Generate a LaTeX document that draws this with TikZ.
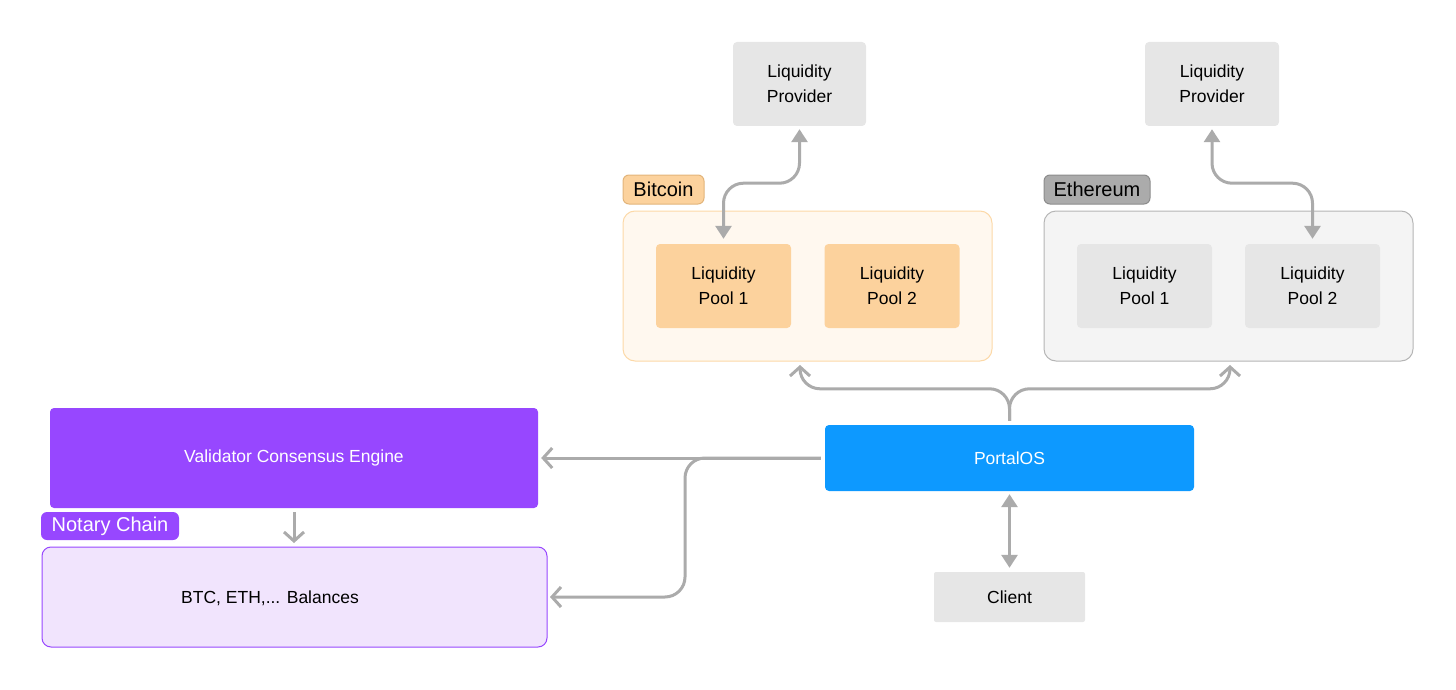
\documentclass[tikz,border=0pt]{standalone}
\usepackage{fontspec}
\setmainfont{Liberation Sans}
\usetikzlibrary{arrows.meta}

\definecolor{boxgray}{HTML}{E6E6E6}
\definecolor{linegray}{HTML}{ABABAB}
\definecolor{btcfill}{HTML}{FCD29D}
\definecolor{btcback}{HTML}{FFF8EF}
\definecolor{btcline}{HTML}{FCD9A8}
\definecolor{btcdark}{HTML}{E2B47A}
\definecolor{ethback}{HTML}{F4F4F4}
\definecolor{ethline}{HTML}{B5B5B5}
\definecolor{ethlabel}{HTML}{ABABAB}
\definecolor{ethdark}{HTML}{8C8C8C}
\definecolor{notary}{HTML}{9747FF}
\definecolor{notaryback}{HTML}{F1E4FD}
\definecolor{portal}{HTML}{0D99FF}

\tikzset{
  box/.style={rounded corners=4pt, inner sep=0pt, align=center,
    font=\fontsize{17.5}{25}\selectfont},
  pool/.style={box, minimum width=135pt, minimum height=84pt},
  tag/.style={rounded corners=6pt, inner sep=0pt, font=\fontsize{20}{22}\selectfont},
  both/.style={linegray, line width=3pt, rounded corners=20pt,
    {Triangle[length=13pt,width=16pt]}-{Triangle[length=13pt,width=16pt]}},
  flow/.style={linegray, line width=3pt, rounded corners=20pt,
    -{Straight Barb[length=9pt,width=20pt,line width=3pt]}}
}

\begin{document}
\begin{tikzpicture}[x=1pt, y=-1pt]
    \useasboundingbox (0,0) rectangle (1456,690);

    % Containers
    \draw[btcline, fill=btcback, line width=1pt, rounded corners=12pt] (623,211) rectangle (992,361);
    \draw[ethline, fill=ethback, line width=1pt, rounded corners=12pt] (1044,211) rectangle (1413,361);
    \node[tag, fill=btcfill, draw=btcdark, line width=1pt, minimum width=81pt, minimum height=29pt] (btctag) at (663.5,189.5) {Bitcoin};
    \node[tag, fill=ethlabel, draw=ethdark, line width=1pt, minimum width=106pt, minimum height=29pt] (ethtag) at (1097,189.5) {Ethereum};

    % Liquidity providers
    \node[pool, fill=boxgray, minimum width=133pt] (lpb) at (799.5,84) {Liquidity\\Provider};
    \node[pool, fill=boxgray, minimum width=134pt] (lpe) at (1212,84) {Liquidity\\Provider};

    % Pools
    \node[pool, fill=btcfill] (poolba) at (723.5,286) {Liquidity\\Pool 1};
    \node[pool, fill=btcfill] (poolbb) at (892,286) {Liquidity\\Pool 2};
    \node[pool, fill=boxgray] (poolea) at (1144.5,286) {Liquidity\\Pool 1};
    \node[pool, fill=boxgray] (pooleb) at (1312.5,286) {Liquidity\\Pool 2};

    % Notary chain
    \node[box, fill=notary, text=white, minimum width=488pt, minimum height=100pt] (validator) at (294,458) {Validator Consensus Engine};
    \draw[notary, fill=notaryback, line width=1pt, rounded corners=9pt] (42,547) rectangle (547,647);
    \coordinate (balances) at (547,597);
    \node[font=\fontsize{17.5}{20}\selectfont] (baltext) at (270,598) {BTC, ETH,... Balances};
    \node[tag, fill=notary, text=white, minimum width=138pt, minimum height=28pt] (notarytag) at (110,526) {Notary Chain};

    % PortalOS and client
    \node[box, fill=portal, text=white, minimum width=369pt, minimum height=66pt] (portalos) at (1009.5,458) {PortalOS};
    \node[box, fill=boxgray, rounded corners=2pt, minimum width=151pt, minimum height=50pt] (client) at (1009.5,597) {Client};

    % Connectors
    \draw[both] ([yshift=-3pt]lpb.south) -- ++(0,54) -| ([yshift=5pt]poolba.north);
    \draw[both] ([yshift=-3pt]lpe.south) -- ++(0,54) -| ([yshift=5pt]pooleb.north);
    \draw[flow] ([yshift=4pt]portalos.north) -- ++(0,-32) -| (800,365);
    \draw[flow] ([yshift=4pt]portalos.north) -- ++(0,-32) -| (1230,365);
    \draw[flow] ([xshift=-4pt]portalos.west) -- ([xshift=3pt]validator.east);
    \draw[flow] ([xshift=-4pt]portalos.west) -| (685,597) -- ([xshift=3pt]balances);
    \draw[flow] ([yshift=-4pt]validator.south) -- (294,543);
    \draw[both] ([yshift=-3pt]portalos.south) -- ([yshift=4pt]client.north);
\end{tikzpicture}
\end{document}
